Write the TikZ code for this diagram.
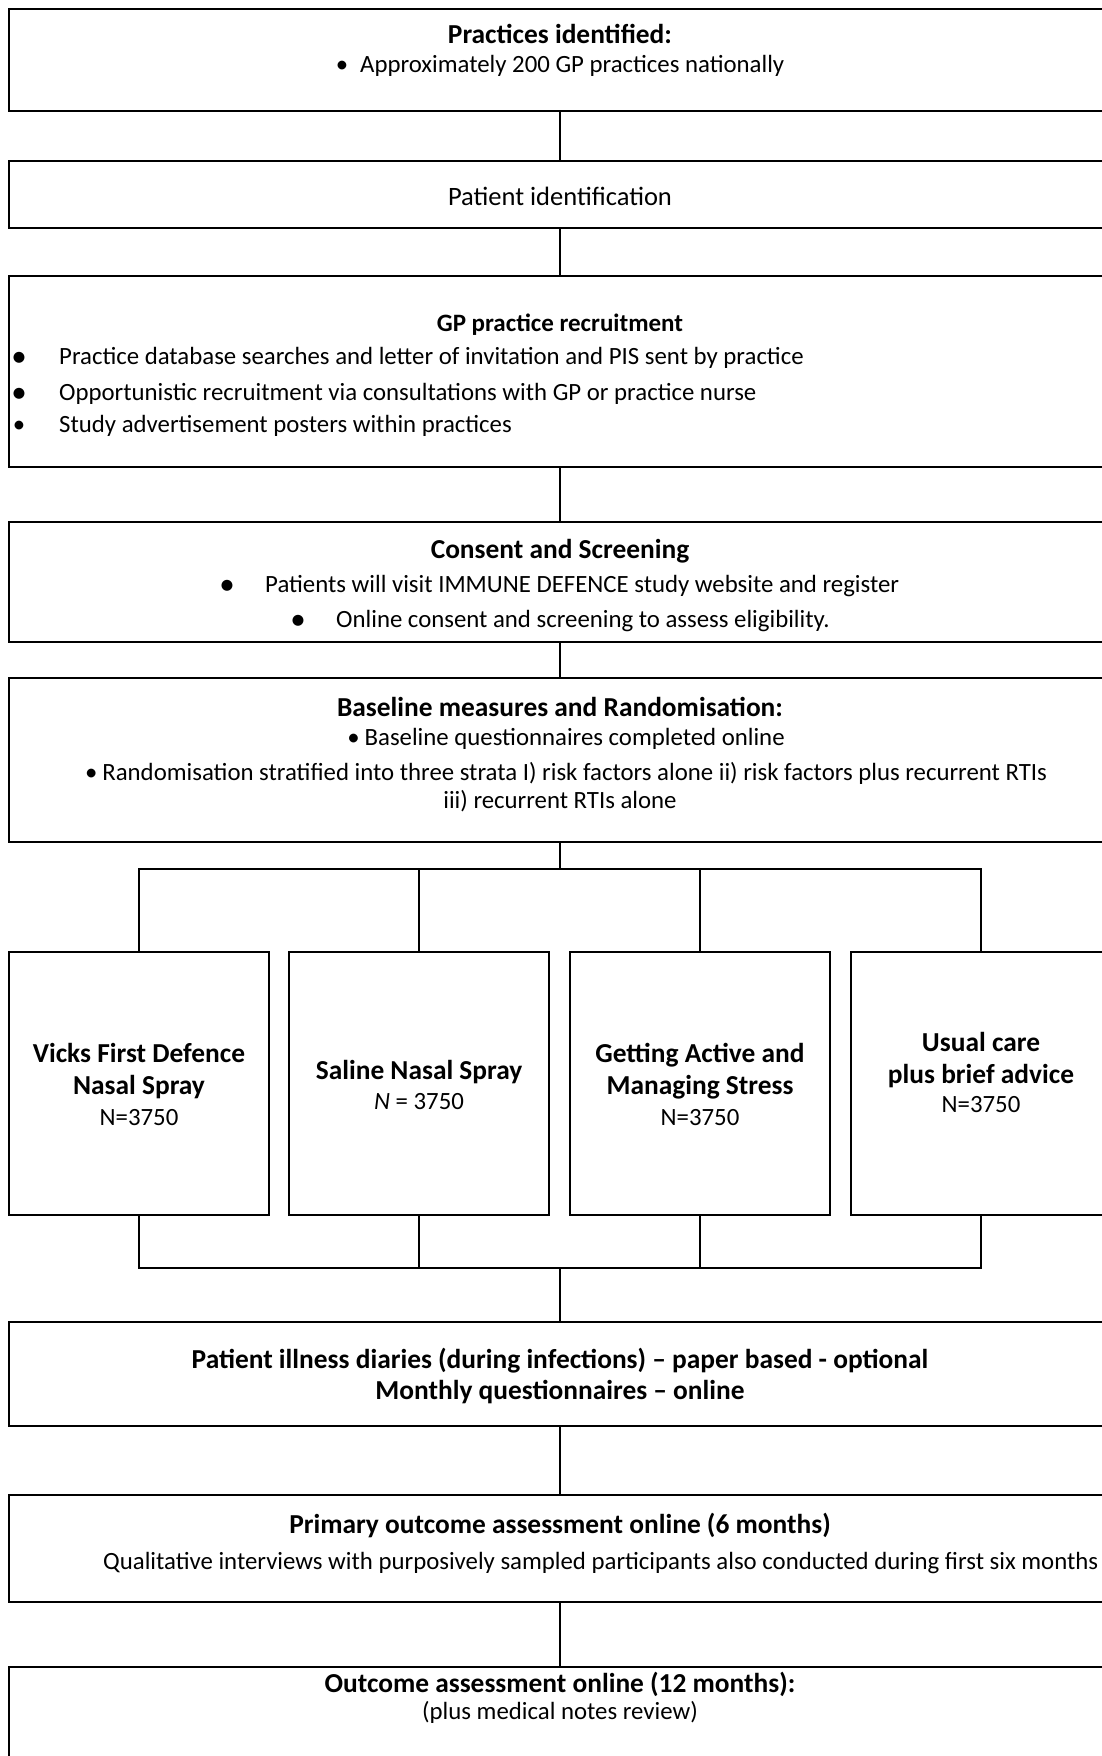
\documentclass[tikz,border=0pt]{standalone}
\usepackage{fontspec}
\setmainfont{Carlito}
\newcommand\fsz[1]{\fontsize{#1pt}{#1pt}\selectfont}
\begin{document}
\begin{tikzpicture}[x=1pt,y=-1pt,
  box/.style={draw=black, line width=1.2pt, anchor=north west, inner sep=0pt, outer sep=0pt},
  widebox/.style={box, minimum width=1102pt},
  armbox/.style={box, minimum width=260pt, minimum height=263pt},
  conn/.style={draw=black, line width=1.2pt},
  ttl/.style={inner sep=0pt, anchor=base, font=\fsz{27.4}\bfseries},
  txt/.style={inner sep=0pt, anchor=base, font=\fsz{24.8}},
  txtl/.style={inner sep=0pt, anchor=base west, font=\fsz{24.8}},
  bigbul/.style={inner sep=0pt, anchor=base, font=\fsz{31}},
]
\useasboundingbox (0,0) rectangle (1101,1756);
\fill[white] (0,0) rectangle (1101,1756);

% main boxes
\node[widebox, minimum height=102pt] (b1) at (9,9) {};
\node[widebox, minimum height=67pt]  (b2) at (9,161) {};
\node[widebox, minimum height=191pt] (b3) at (9,276) {};
\node[widebox, minimum height=120pt] (b4) at (9,522) {};
\node[widebox, minimum height=164pt] (b5) at (9,678) {};
\node[armbox] (a1) at (9,952) {};
\node[armbox] (a2) at (289,952) {};
\node[armbox] (a3) at (570,952) {};
\node[armbox] (a4) at (851,952) {};
\node[widebox, minimum height=104pt] (b6) at (9,1322) {};
\node[widebox, minimum height=107pt] (b7) at (9,1495) {};
\node[widebox, minimum height=110pt] (b8) at (9,1667) {};

% connectors
\draw[conn] (b1.south) -- (b2.north);
\draw[conn] (b2.south) -- (b3.north);
\draw[conn] (b3.south) -- (b4.north);
\draw[conn] (b4.south) -- (b5.north);
\coordinate (bt) at (560,869);
\draw[conn] (b5.south) -- (bt);
\draw[conn] (a1.north) |- (a4.north |- bt) -- (a4.north);
\draw[conn] (a2.north) -- (a2.north |- bt);
\draw[conn] (a3.north) -- (a3.north |- bt);
\coordinate (bb) at (560,1268);
\draw[conn] (a1.south) |- (a4.south |- bb) -- (a4.south);
\draw[conn] (a2.south) -- (a2.south |- bb);
\draw[conn] (a3.south) -- (a3.south |- bb);
\draw[conn] (bb) -- (b6.north);
\draw[conn] (b6.south) -- (b7.north);
\draw[conn] (b7.south) -- (b8.north);

% box 1
\node[ttl] (t1) at (560,43) {Practices identified:};
\node[txt] (t1a) at (560,72) {\textbullet\hspace{12pt}Approximately 200 GP practices nationally};
% box 2
\node[txt, font=\fsz{26.5}] (t2) at (560,205) {Patient identification};
% box 3
\node[ttl, font=\fsz{25}\bfseries] (t3) at (560,331) {GP practice recruitment};
\node[bigbul] (u3a) at (19,366) {\textbullet};
\node[txtl] (t3a) at (59,364) {Practice database searches and letter of invitation and PIS sent by practice};
\node[bigbul] (u3b) at (19,402) {\textbullet};
\node[txtl] (t3b) at (59,400) {Opportunistic recruitment via consultations with GP or practice nurse};
\node[txt] (u3c) at (19,432) {\textbullet};
\node[txtl] (t3c) at (59,432) {Study advertisement posters within practices};
% box 4
\node[ttl] (t4) at (560,558) {Consent and Screening};
\node[bigbul] (u4a) at (227,594) {\textbullet};
\node[txtl] (t4a) at (265,592) {Patients will visit IMMUNE DEFENCE study website and register};
\node[bigbul] (u4b) at (298,629) {\textbullet};
\node[txtl] (t4b) at (336,627) {Online consent and screening to assess eligibility.};
% box 5
\node[ttl] (t5) at (560,716) {Baseline measures and Randomisation:};
\node[txt] (t5a) at (566,745) {\textbullet\hspace{5pt}Baseline questionnaires completed online};
\node[txt] (t5b) at (566,780) {\textbullet\hspace{5pt}Randomisation stratified into three strata I) risk factors alone ii) risk factors plus recurrent RTIs};
\node[txt] (t5c) at (560,808) {iii) recurrent RTIs alone};
% arms
\node[ttl] (p1a) at (a1.center |- 0,1062) {Vicks First Defence};
\node[ttl] (p1b) at (a1.center |- 0,1094) {Nasal Spray};
\node[txt] (p1c) at (a1.center |- 0,1125) {N=3750};
\node[ttl] (p2a) at (a2.center |- 0,1079) {Saline Nasal Spray};
\node[txt] (p2b) at (a2.center |- 0,1109) {\textit{N} = 3750};
\node[ttl] (p3a) at (a3.center |- 0,1062) {Getting Active and};
\node[ttl] (p3b) at (a3.center |- 0,1094) {Managing Stress};
\node[txt] (p3c) at (a3.center |- 0,1125) {N=3750};
\node[ttl] (p4a) at (a4.center |- 0,1051) {Usual care};
\node[ttl] (p4b) at (a4.center |- 0,1083) {plus brief advice};
\node[txt] (p4c) at (a4.center |- 0,1112) {N=3750};
% box 6
\node[ttl] (t6a) at (560,1368) {Patient illness diaries (during infections) – paper based - optional};
\node[ttl] (t6b) at (560,1399) {Monthly questionnaires – online};
% box 7
\node[ttl] (t7a) at (560,1533) {Primary outcome assessment online (6 months)};
\node[txtl] (t7b) at (103,1569) {Qualitative interviews with purposively sampled participants also conducted during first six months};
% box 8
\node[ttl] (t8a) at (560,1692) {Outcome assessment online (12 months):};
\node[txt] (t8b) at (560,1719) {(plus medical notes review)};
\end{tikzpicture}
\end{document}
